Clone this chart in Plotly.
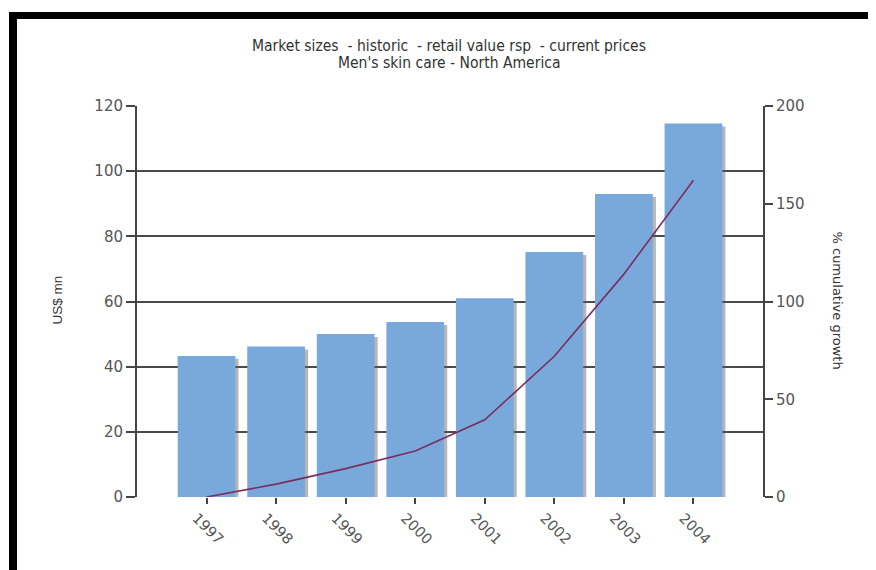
import plotly.graph_objects as go

years = ["1997", "1998", "1999", "2000", "2001", "2002", "2003", "2004"]
market_size = [43.3, 46.2, 50.0, 53.7, 61.0, 75.2, 93.0, 114.6]
cum_growth = [0.0, 6.6, 14.5, 23.5, 39.5, 72.0, 114.0, 162.0]

left_ticks = [0, 20, 40, 60, 80, 100, 120]
right_ticks = [0, 50, 100, 150, 200]

title_lines = ["Market sizes  - historic  - retail value rsp  - current prices",
               "Men's skin care - North America"]

BAR_W = 0.83
SHIFT = 0.045

# page body has an 8px margin: figure is laid out in its own coordinates
W, H = 868, 562
L, T, PW, PH = 129, 98, 626, 391

fig = go.Figure()

# shadow of bars
fig.add_trace(go.Bar(
    x=list(range(len(years))), y=market_size, base=-0.9,
    width=BAR_W, offset=-BAR_W / 2 + SHIFT,
    marker=dict(color="rgba(95,95,95,0.45)", line=dict(width=0)),
    hoverinfo="skip", showlegend=False,
))
fig.add_trace(go.Bar(
    x=list(range(len(years))), y=market_size,
    width=BAR_W, offset=-BAR_W / 2,
    marker=dict(color="#78A9DA", line=dict(width=0)),
    showlegend=False, name="US$ mn",
))
fig.add_trace(go.Scatter(
    x=list(range(len(years))), y=cum_growth, yaxis="y2", mode="lines",
    line=dict(color="#7A2E60", width=1.6), showlegend=False,
    name="% cumulative growth",
))

tick_font = dict(family="DejaVu Sans, Verdana, sans-serif", size=15, color="#555555")

fig.update_layout(
    width=W, height=H,
    margin=dict(l=L, r=W - L - PW, t=T, b=H - T - PH),
    paper_bgcolor="white", plot_bgcolor="white",
    barmode="overlay",
    xaxis=dict(
        range=[-1, 8], tickmode="array",
        tickvals=list(range(len(years))), ticktext=years,
        tickangle=45, tickfont=dict(tick_font, size=14.5), ticklabelshift=-10,
        showgrid=False, zeroline=False, showline=False,
        ticks="outside", ticklen=6, tickcolor="#444444", tickwidth=1.5,
    ),
    yaxis=dict(
        range=[0, 120], tickvals=left_ticks, tickfont=tick_font,
        showgrid=True, gridcolor="#4a4a4a", gridwidth=1.8,
        zeroline=False, showline=True, linecolor="#444444", linewidth=2,
        ticks="outside", ticklen=9, tickcolor="#444444", tickwidth=1.8,
        layer="below traces",
    ),
    yaxis2=dict(
        range=[0, 200], tickvals=right_ticks, tickfont=tick_font,
        overlaying="y", side="right", showgrid=False, zeroline=False,
        showline=True, linecolor="#444444", linewidth=2,
        ticks="outside", ticklen=8, tickcolor="#444444", tickwidth=1.8,
    ),
    font=dict(family="DejaVu Sans, sans-serif"),
)


def px_x(v):
    return (v - L) / PW


def px_y(v):
    return (T + PH - v) / PH


title_font = dict(family="Liberation Sans Narrow, DejaVu Sans Condensed, Liberation Sans, Arial, sans-serif",
                  size=15.5, color="#333333")
for i, line in enumerate(title_lines):
    fig.add_annotation(text=line, xref="paper", yref="paper",
                       x=px_x(441), y=px_y(37.5 + 17.5 * i), xanchor="center", yanchor="middle",
                       showarrow=False, font=title_font)
fig.add_annotation(text="US$ mn", xref="paper", yref="paper",
                   x=px_x(39), y=px_y(292), textangle=-90,
                   showarrow=False,
                   font=dict(family="Liberation Sans, Arial, sans-serif", size=13.5, color="#333333"))
fig.add_annotation(text="% cumulative growth", xref="paper", yref="paper",
                   x=px_x(839), y=px_y(292), textangle=90,
                   showarrow=False,
                   font=dict(family="DejaVu Sans, Verdana, sans-serif", size=13, color="#333333"))

# black frame (decoration)
fig.add_shape(type="rect", xref="paper", yref="paper", layer="above",
              x0=px_x(1), x1=px_x(9), y0=px_y(11), y1=px_y(H),
              fillcolor="black", line=dict(width=0))
fig.add_shape(type="rect", xref="paper", yref="paper", layer="above",
              x0=px_x(1), x1=px_x(W), y0=px_y(11), y1=px_y(4),
              fillcolor="black", line=dict(width=0))

fig.write_html("out.html")
